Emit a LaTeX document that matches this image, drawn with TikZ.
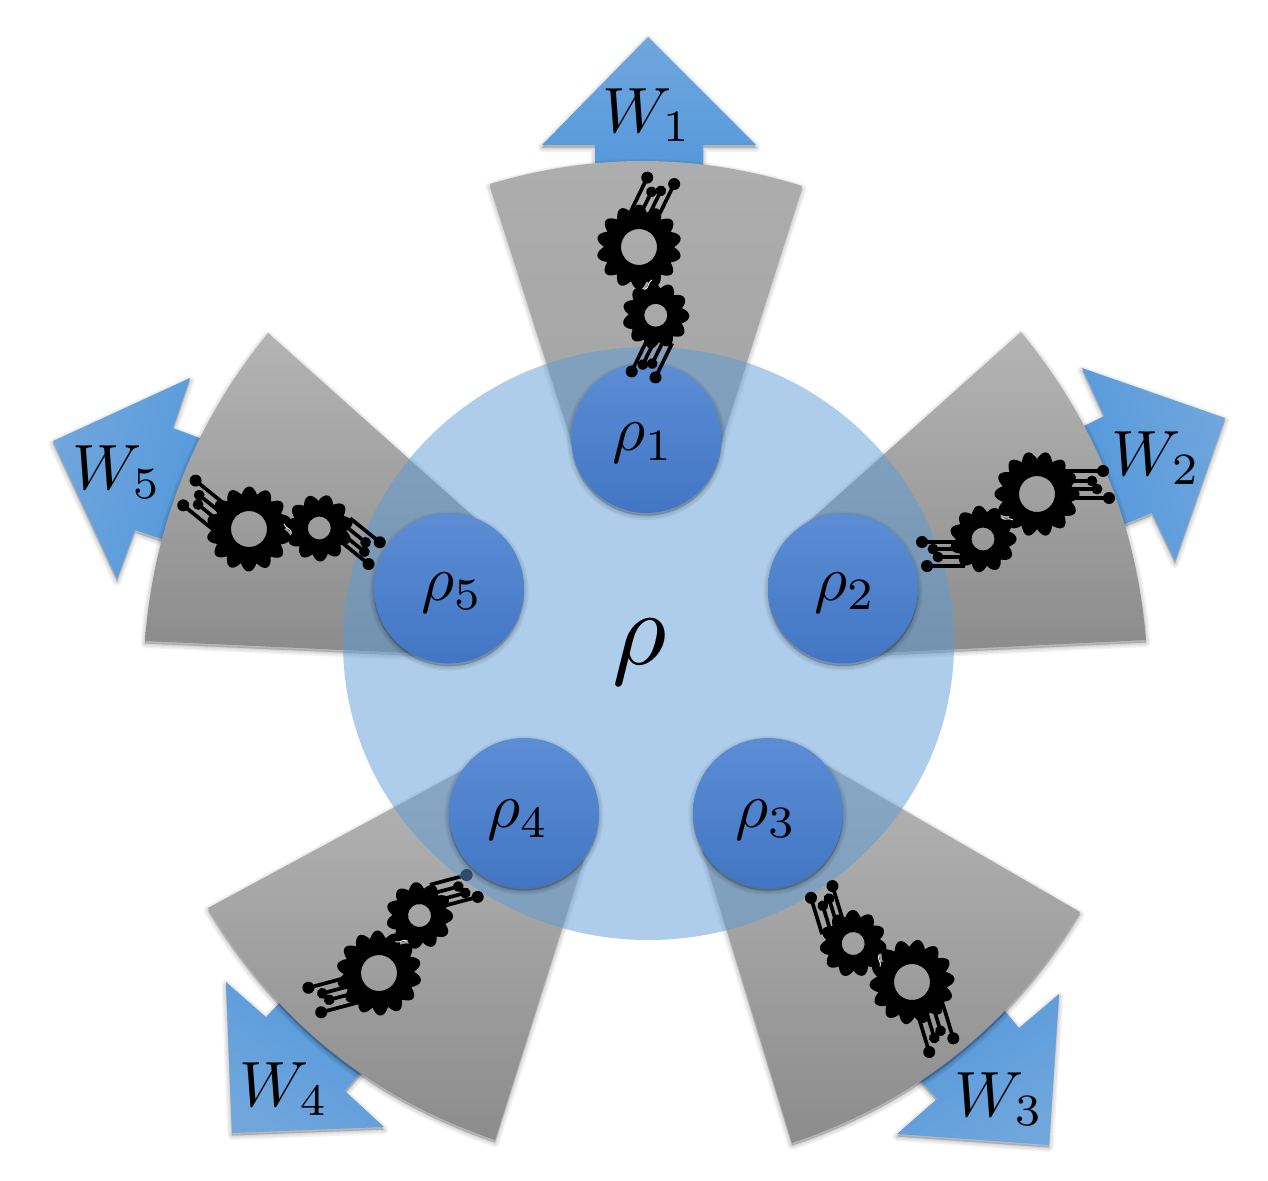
\documentclass[tikz,border=0pt]{standalone}
\usetikzlibrary{shapes.geometric}
\definecolor{diskblue}{HTML}{5B9BD5}
\definecolor{cellTop}{HTML}{5C8DD5}
\definecolor{cellBot}{HTML}{4276C4}
\definecolor{arrowTip}{HTML}{70A6DC}
\definecolor{arrowBase}{HTML}{5498DC}
\definecolor{wedgeTop}{HTML}{B4B4B4}
\definecolor{wedgeBot}{HTML}{8C8C8C}
\tikzset{
  softlayer/.style={draw=black,fill=black,draw opacity=.05,fill opacity=.05,yshift=-2.5pt,line join=round},
  outlet/.style={top color=arrowTip,bottom color=arrowBase,shading angle=#1},
  wedge/.style={top color=wedgeTop,bottom color=wedgeBot},
  cell/.style={circle,minimum size=150pt,inner sep=0pt,top color=cellTop,bottom color=cellBot},
  tag/.style={inner sep=0pt},
  wire/.style={line width=3.7pt,black},
  pin/.style={black}
}
% a filled outline with a soft shadow under it
\newcommand{\softshape}[2]{%
  \foreach \w in {9,6,3,1}{\path[softlayer,line width=\w pt] #2;}%
  \path[#1] #2;}
% scalloped gear with a real hole: centre, root radius, bump height, teeth, hole radius
\newcommand{\cog}[5]{%
  \fill[black,even odd rule,shift={#1}]
    plot[samples=361,domain=0:360] ({(#2+#3*abs(cos(#4*\x/2)))*cos(\x)},{(#2+#3*abs(cos(#4*\x/2)))*sin(\x)}) -- cycle
    (0,0) circle[radius=#5];}
% two meshed gears with their pin rows; large gear sits at the origin of the scope
\newcommand{\gearpair}[2]{%
  \begin{scope}[shift={(#1)},rotate=#2]
    \foreach \a/\b/\r in {66/-23/6,55/-13/5.4,60/-5/5.4,72/4/6}{
      \draw[wire] (25,\b) -- (\a,\b);
      \fill[pin] (\a,\b) circle[radius=\r];}
    \foreach \a/\b/\r in {-115/48/6,-104/55/5.4,-99/63/5.4,-110/72/6}{
      \draw[wire] (-72,\b) -- (\a,\b);
      \fill[pin] (\a,\b) circle[radius=\r];}
    \cog{(0,0)}{35}{7.5}{14}{18}
    \cog{(-54,45)}{27}{6.5}{11}{11.5}
    \draw[white,line width=.9pt] (-35,24) .. controls (-32,27) and (-28,23) .. (-24,26);
  \end{scope}}
\begin{document}
\begin{tikzpicture}[x=1pt,y=-1pt]
\useasboundingbox (0,0) rectangle (1268,1180);

% work outlets
\softshape{outlet=0}{(648,37) -- (756,145) -- (703,145) -- (703,175) -- (595,175) -- (595,145) -- (542,145) -- cycle}
\softshape{outlet=-72}{(1225,418) -- (1175,561) -- (1152,513) -- (1120,526) -- (1080,428) -- (1104,416) -- (1082,368) -- cycle}
\softshape{outlet=-144}{(1049,1145) -- (897,1134) -- (937,1099) -- (915,1075) -- (1000,1005) -- (1019,1028) -- (1059,994) -- cycle}
\softshape{outlet=144}{(232,1133) -- (226,982) -- (266,1017) -- (285,997) -- (365,1068) -- (345,1091) -- (384,1127) -- cycle}
\softshape{outlet=72}{(53,441) -- (190,378) -- (173,428) -- (205,440) -- (168,541) -- (135,530) -- (117,579) -- cycle}

% grey wedges
\softshape{top color=black!32,bottom color=black!36}{(490,184) .. controls (594,152.7) and (698,153.3) .. (802,186) -- (722,438) -- (646.5,470) -- (571,438) -- cycle}
\softshape{wedge}{(1021,332) .. controls (1094.9,421.6) and (1136.5,524.2) .. (1146,640) -- (860,654) -- (843,588) -- (806,524) -- cycle}
\softshape{wedge}{(1080,912) .. controls (1012.4,1024.4) and (916.4,1101.4) .. (792,1143) -- (703,850) -- (768,813) -- (826,765) -- cycle}
\softshape{wedge}{(208,908) .. controls (275.2,1020.5) and (370.8,1097.9) .. (495,1140) -- (583,860) -- (524,813) -- (465,769) -- cycle}
\softshape{wedge}{(268,333) .. controls (194.8,422.8) and (153.8,525.4) .. (145,641) -- (430,654) -- (449,588) -- (484,526) -- cycle}

\gearpair{379,973}{-165}

% shared reservoir
\node[ellipse,minimum width=611pt,minimum height=593pt,inner sep=0pt,fill=diskblue,fill opacity=.5,text opacity=1] (res) at (648.5,643.5) {};
\node[tag] (reslabel) at (640,652) {\scalebox{10.5}{$\rho$}};

% local cells
\foreach \x/\y in {646.5/438,843/588.5,768/813,524/813,449/588.5}{
  \foreach \w in {9,6,3,1}{\path[softlayer,line width=\w pt] (\x,\y) circle[radius=75];}}
\node[cell] (c1) at (646.5,438) {};
\node[cell] (c2) at (843,588.5) {};
\node[cell] (c3) at (768,813) {};
\node[cell] (c4) at (524,813) {};
\node[cell] (c5) at (449,588.5) {};
\node[tag] (l1) at (643,443) {\scalebox{6.4}{$\rho_1$}};
\node[tag] (l2) at (845,592.5) {\scalebox{6.4}{$\rho_2$}};
\node[tag] (l3) at (766,820) {\scalebox{6.4}{$\rho_3$}};
\node[tag] (l4) at (518,820) {\scalebox{6.4}{$\rho_4$}};
\node[tag] (l5) at (452,592.5) {\scalebox{6.4}{$\rho_5$}};

\gearpair{639,247}{64}
\gearpair{1037,494}{0}
\gearpair{912,982}{-73}
\gearpair{249,529}{-219}

% work labels
\node[tag] (w1) at (647,115) {\scalebox{6.4}{$W_1$}};
\node[tag] (w2) at (1156,458) {\scalebox{6.4}{$W_2$}};
\node[tag] (w3) at (999,1099) {\scalebox{6.4}{$W_3$}};
\node[tag] (w4) at (284,1089) {\scalebox{6.4}{$W_4$}};
\node[tag] (w5) at (117,472) {\scalebox{6.4}{$W_5$}};
\end{tikzpicture}
\end{document}
